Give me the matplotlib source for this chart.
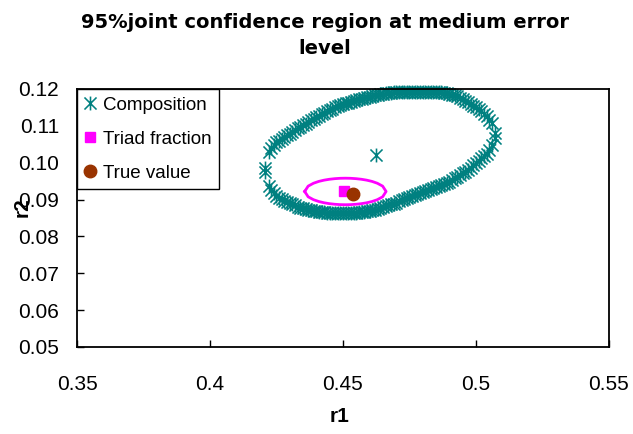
import matplotlib
matplotlib.use("Agg")
import matplotlib.pyplot as plt
from matplotlib.path import Path
from matplotlib.lines import Line2D

# Composition-based 95% joint confidence region (upper and lower boundary)
comp_r1 = [0.4207,
           0.422, 0.423, 0.424, 0.425, 0.426, 0.427, 0.428, 0.429, 0.430, 0.431,
           0.432, 0.433, 0.434, 0.435, 0.436, 0.437, 0.438, 0.439, 0.440, 0.441,
           0.442, 0.443, 0.444, 0.445, 0.446, 0.447, 0.448, 0.449, 0.450, 0.451,
           0.452, 0.453, 0.454, 0.455, 0.456, 0.457, 0.458, 0.459, 0.460, 0.461,
           0.462, 0.463, 0.464, 0.465, 0.466, 0.467, 0.468, 0.469, 0.470, 0.471,
           0.472, 0.473, 0.474, 0.475, 0.476, 0.477, 0.478, 0.479, 0.480, 0.481,
           0.482, 0.483, 0.484, 0.485, 0.486, 0.487, 0.488, 0.489, 0.490, 0.491,
           0.492, 0.493, 0.494, 0.495, 0.496, 0.497, 0.498, 0.499, 0.500, 0.501,
           0.502, 0.503, 0.504, 0.505, 0.506,
           0.5071]
comp_r2_upper = [0.0986,
                 0.1029, 0.1040, 0.1048, 0.1055, 0.1060, 0.1065, 0.1070, 0.1075, 0.1079, 0.1084,
                 0.1089, 0.1093, 0.1097, 0.1102, 0.1106, 0.1111, 0.1115, 0.1119, 0.1123, 0.1127,
                 0.1131, 0.1136, 0.1140, 0.1144, 0.1147, 0.1150, 0.1153, 0.1156, 0.1159, 0.1161,
                 0.1163, 0.1166, 0.1168, 0.1170, 0.1172, 0.1174, 0.1176, 0.1178, 0.1179, 0.1181,
                 0.1183, 0.1185, 0.1186, 0.1187, 0.1188, 0.1189, 0.1190, 0.1191, 0.1192, 0.1192,
                 0.1192, 0.1193, 0.1193, 0.1193, 0.1193, 0.1193, 0.1193, 0.1193, 0.1192, 0.1192,
                 0.1192, 0.1192, 0.1192, 0.1192, 0.1192, 0.1191, 0.1190, 0.1189, 0.1187, 0.1185,
                 0.1183, 0.1180, 0.1176, 0.1172, 0.1168, 0.1164, 0.1159, 0.1155, 0.1150, 0.1145,
                 0.1139, 0.1133, 0.1126, 0.1117, 0.1107,
                 0.1081]
comp_r2_lower = [0.0975,
                 0.0937, 0.0926, 0.0917, 0.0910, 0.0905, 0.0901, 0.0897, 0.0893, 0.0890, 0.0887,
                 0.0884, 0.0881, 0.0878, 0.0876, 0.0874, 0.0872, 0.0871, 0.0869, 0.0868, 0.0867,
                 0.0866, 0.0865, 0.0864, 0.0863, 0.0863, 0.0863, 0.0863, 0.0863, 0.0863, 0.0863,
                 0.0863, 0.0863, 0.0864, 0.0864, 0.0865, 0.0866, 0.0867, 0.0868, 0.0870, 0.0871,
                 0.0873, 0.0875, 0.0878, 0.0880, 0.0882, 0.0884, 0.0887, 0.0889, 0.0892, 0.0895,
                 0.0898, 0.0901, 0.0904, 0.0907, 0.0910, 0.0912, 0.0915, 0.0918, 0.0921, 0.0923,
                 0.0926, 0.0928, 0.0931, 0.0934, 0.0937, 0.0940, 0.0943, 0.0946, 0.0949, 0.0953,
                 0.0958, 0.0962, 0.0967, 0.0971, 0.0976, 0.0981, 0.0987, 0.0993, 0.0999, 0.1005,
                 0.1012, 0.1018, 0.1025, 0.1035, 0.1048,
                 0.1067]
comp_estimate = (0.4623, 0.1021)

# Triad-fraction-based 95% joint confidence region
triad_r1 = [0.4356, 0.4369, 0.4389, 0.4409, 0.4429, 0.4449, 0.4469, 0.4489, 0.4509,
            0.4529, 0.4549, 0.4569, 0.4589, 0.4609, 0.4629, 0.4649, 0.4662]
triad_r2_upper = [0.0922, 0.09365, 0.09443, 0.09493, 0.09527, 0.09551, 0.09567, 0.09577, 0.0958,
                  0.09577, 0.09567, 0.09551, 0.09527, 0.09493, 0.09443, 0.09365, 0.0922]
triad_r2_lower = [0.0922, 0.09075, 0.08997, 0.08947, 0.08913, 0.08889, 0.08873, 0.08863, 0.0886,
                  0.08863, 0.08873, 0.08889, 0.08913, 0.08947, 0.08997, 0.09075, 0.0922]
triad_estimate = (0.4504, 0.0924)

true_value = (0.4539, 0.0915)

x_ticks = [0.35, 0.40, 0.45, 0.50, 0.55]
x_tick_labels = ["0.35", "0.4", "0.45", "0.5", "0.55"]
y_ticks = [0.05, 0.06, 0.07, 0.08, 0.09, 0.10, 0.11, 0.12]
y_tick_labels = ["0.05", "0.06", "0.07", "0.08", "0.09", "0.10", "0.11", "0.12"]

TEAL = "#008080"
MAGENTA = "#FF00FF"
BROWN = "#993300"

# Excel-style asterisk: an X with a vertical stroke
asterisk = Path(
    [(-1, -1), (1, 1), (-1, 1), (1, -1), (0, -1.15), (0, 1.15)],
    [Path.MOVETO, Path.LINETO, Path.MOVETO, Path.LINETO, Path.MOVETO, Path.LINETO],
)

plt.rcParams["font.family"] = ["Liberation Sans", "DejaVu Sans"]

fig = plt.figure(figsize=(6.33, 4.34), dpi=100)
ax = fig.add_axes([77 / 633, 87 / 434, 532 / 633, 258 / 434])

ast_style = dict(linestyle="none", marker=asterisk, markersize=10,
                 markeredgewidth=1.15, markeredgecolor=TEAL, markerfacecolor="none")

ax.plot(comp_r1 + comp_r1, comp_r2_upper + comp_r2_lower, clip_on=False, **ast_style)
ax.plot([comp_estimate[0]], [comp_estimate[1]], **ast_style)

ax.plot(triad_r1 + triad_r1[::-1], triad_r2_upper + triad_r2_lower[::-1],
        color=MAGENTA, linewidth=2.0)
ax.plot([triad_estimate[0]], [triad_estimate[1]], linestyle="none", marker="s",
        markersize=6.5, color=MAGENTA)
ax.plot([true_value[0]], [true_value[1]], linestyle="none", marker="o",
        markersize=9, color=BROWN)

ax.set_xlim(0.35, 0.55)
ax.set_ylim(0.05, 0.12)
ax.set_xticks(x_ticks)
ax.set_xticklabels(x_tick_labels)
ax.set_yticks(y_ticks)
ax.set_yticklabels(y_tick_labels)
ax.tick_params(direction="in", length=5, width=1, labelsize=15)
ax.tick_params(axis="x", pad=20)
ax.tick_params(axis="y", pad=13)
for s in ax.spines.values():
    s.set_linewidth(1.3)
    s.set_color("black")

handles = [
    Line2D([], [], **ast_style),
    Line2D([], [], linestyle="none", marker="s", markersize=6.5, color=MAGENTA),
    Line2D([], [], linestyle="none", marker="o", markersize=9, color=BROWN),
]
leg = ax.legend(handles, ["Composition", "Triad fraction", "True value"],
                loc="upper left", bbox_to_anchor=(0, 1), borderaxespad=0,
                fontsize=13.5, frameon=True, fancybox=False, framealpha=1,
                edgecolor="black", handlelength=0.6, handletextpad=0.4,
                labelspacing=0.9, borderpad=0.4)
leg.get_frame().set_linewidth(1.0)

fig.text(325 / 633, 1 - 13 / 434, "95%joint confidence region at medium error\nlevel",
         ha="center", va="top", fontsize=14, fontweight="bold",
         family=["DejaVu Sans"], linespacing=1.45)
fig.text(22 / 633, 1 - 207 / 434, "r2", rotation=90, ha="center", va="center",
         fontsize=15, fontweight="bold")
fig.text(340 / 633, 1 - 417 / 434, "r1", ha="center", va="center",
         fontsize=15, fontweight="bold")

fig.savefig("out.png", dpi=100)
